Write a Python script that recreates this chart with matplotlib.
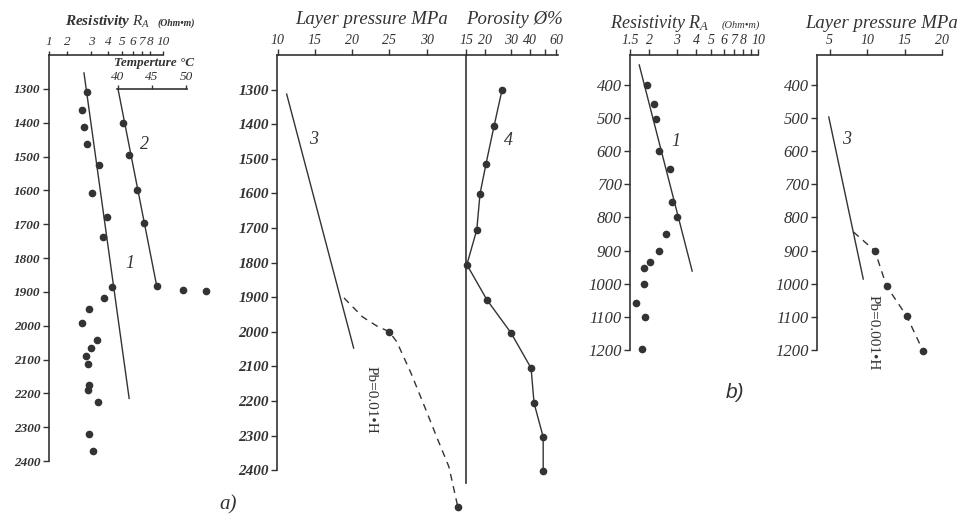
import matplotlib
matplotlib.use("Agg")
import matplotlib.pyplot as plt

plt.rcParams['font.family'] = ['Liberation Serif', 'DejaVu Serif']
plt.rcParams['mathtext.fontset'] = 'custom'
plt.rcParams['mathtext.it'] = 'Liberation Serif:italic'
plt.rcParams['mathtext.rm'] = 'Liberation Serif'

INK = '#333333'

# ---- panel a) : resistivity + temperature ---------------------------------
res_a_depth = [1309, 1364, 1414, 1463, 1525, 1609, 1680, 1737, 1886, 1918, 1950,
               1991, 2043, 2067, 2090, 2113, 2175, 2189, 2227, 2320, 2370]
res_a_val = [2.80, 2.57, 2.66, 2.80, 3.42, 3.05, 3.92, 3.66, 4.26, 3.72, 2.89,
             2.57, 3.31, 2.99, 2.75, 2.85, 2.90, 2.85, 3.37, 2.90, 3.09]
res_a_trend_depth = [1253, 2215]
res_a_trend_val = [2.66, 5.67]
res_a_ticks = [1.48, 2, 3, 4, 5, 6, 7, 8, 10]
res_a_ticklabels = ['1', '2', '3', '4', '5', '6', '7', '8', '10']

temp_depth = [1402, 1495, 1600, 1697, 1883, 1895, 1898]
temp_val = [40.7, 41.6, 42.8, 43.8, 45.7, 49.6, 52.9]
temp_trend_depth = [1300, 1883]
temp_trend_val = [40.0, 45.7]
temp_ticks = [40, 45, 50]

depth_a_ticks = [1300, 1400, 1500, 1600, 1700, 1800, 1900, 2000, 2100, 2200, 2300, 2400]

# ---- panel a) : layer pressure + porosity ---------------------------------
pres_a_line_depth = [1313, 2047]
pres_a_line_val = [11.2, 20.2]
pres_a_dash_depth = [1902, 1957, 1983, 2000, 2029, 2119, 2209, 2306, 2390, 2506]
pres_a_dash_val = [18.9, 21.4, 23.3, 25.0, 26.0, 27.9, 29.6, 31.4, 33.0, 34.2]
pres_a_pts_depth = [2000, 2506]
pres_a_pts_val = [25.0, 34.2]
pres_a_ticks = [10, 15, 20, 25, 30]

poro_depth = [1300, 1404, 1514, 1601, 1705, 1806, 1908, 2003, 2105, 2206, 2304, 2403]
poro_val = [26.1, 23.1, 20.4, 18.6, 17.7, 15.2, 20.7, 29.9, 40.7, 42.6, 49.0, 49.0]
poro_ticks = [15, 20, 30, 40, 50, 60]
poro_ticklabels = ['15', '20', '30', '40', '', '60']

# ---- panel b) ----------------------------------------------------------------
res_b_depth = [400, 457, 503, 599, 654, 753, 799, 850, 901, 935, 953, 1001, 1059, 1101, 1198]
res_b_val = [1.94, 2.15, 2.20, 2.32, 2.73, 2.80, 3.02, 2.57, 2.32, 2.03, 1.84, 1.84, 1.65, 1.86, 1.78]
res_b_trend_depth = [340, 962]
res_b_trend_val = [1.72, 3.77]
res_b_ticks = [1.5, 2, 3, 4, 5, 6, 7, 8, 9, 10]
res_b_ticklabels = ['1.5', '2', '3', '4', '5', '6', '7', '8', '', '10']

pres_b_line_depth = [497, 986]
pres_b_line_val = [4.9, 9.5]
pres_b_dash_depth = [844, 901, 1007, 1098, 1204]
pres_b_dash_val = [8.2, 11.05, 12.6, 15.3, 17.5]
pres_b_ticks = [5, 10, 15, 20]

depth_b_ticks = [400, 500, 600, 700, 800, 900, 1000, 1100, 1200]

W, H = 966, 516
fig = plt.figure(figsize=(9.66, 5.16), dpi=100)


def px_axes(x0, y0, x1, y1):
    ax = fig.add_axes([x0 / W, 1 - y1 / H, (x1 - x0) / W, (y1 - y0) / H])
    ax.patch.set_visible(False)
    for s in ['right', 'bottom']:
        ax.spines[s].set_visible(False)
    for s in ['left', 'top']:
        ax.spines[s].set_color(INK)
        ax.spines[s].set_linewidth(1.2)
    ax.xaxis.tick_top()
    ax.tick_params(axis='both', which='both', direction='out', length=4, width=1,
                   color=INK, labelcolor=INK, pad=2)
    ax.minorticks_off()
    return ax


def depth_labels(ax, ticks, size, weight='bold'):
    ax.set_yticks(ticks)
    ax.set_yticklabels([str(t) for t in ticks], fontstyle='italic', fontweight=weight,
                       fontsize=size)


def top_labels(ax, ticks, labels, size):
    ax.set_xticks(ticks)
    ax.set_xticklabels(labels, fontstyle='italic', fontsize=size)
    ax.minorticks_off()


def ftext(x, y, s, **kw):
    kw.setdefault('color', INK)
    kw.setdefault('fontstyle', 'italic')
    fig.text(x / W, 1 - y / H, s, **kw)


dot = dict(marker='o', ms=4.5, color=INK, lw=0, clip_on=False)

# resistivity a)
ax1 = px_axes(49, 55, 163, 461)
ax1.set_xscale('log')
ax1.set_xlim(1.48, 10.0)
ax1.set_ylim(2400, 1200)
ax1.plot(res_a_trend_val, res_a_trend_depth, color=INK, lw=1, clip_on=False)
ax1.plot(res_a_val, res_a_depth, **dot)
top_labels(ax1, res_a_ticks, res_a_ticklabels, 9.5)
ax1.tick_params(axis='x', length=3)
depth_labels(ax1, depth_a_ticks, 9.5)
ax1.text(5.7, 1815, '1', fontsize=13, fontstyle='italic', color=INK, ha='center', va='center')
ax1.text(7.3, 1466, '2', fontsize=13, fontstyle='italic', color=INK, ha='center', va='center')

# temperature a)
axt = px_axes(117, 89, 187, 461)
axt.spines['left'].set_visible(False)
axt.set_xlim(39.85, 50.15)
axt.set_ylim(2400, 1300)
axt.set_yticks([])
axt.plot(temp_trend_val, temp_trend_depth, color=INK, lw=1, clip_on=False)
axt.plot(temp_val, temp_depth, **dot)
top_labels(axt, temp_ticks, [str(t) for t in temp_ticks], 9.5)
axt.tick_params(axis='x', length=3, pad=1)

# layer pressure a)
ax2 = px_axes(277, 55, 466, 483)
ax2.set_xlim(9.9, 35.3)
ax2.set_ylim(2437, 1200)
ax2.spines['left'].set_bounds(2400, 1200)
ax2.plot(pres_a_line_val, pres_a_line_depth, color=INK, lw=1)
ax2.plot(pres_a_dash_val, pres_a_dash_depth, color=INK, lw=1, ls=(0, (5, 4)), clip_on=False)
ax2.plot(pres_a_pts_val, pres_a_pts_depth, **dot)
top_labels(ax2, pres_a_ticks, [str(t) for t in pres_a_ticks], 10)
depth_labels(ax2, depth_a_ticks, 11)
ax2.text(14.8, 1445, '3', fontsize=13, fontstyle='italic', color=INK, ha='center', va='center')
ax2.text(22.6, 2197, 'Pb=0.01•H', fontsize=11, color=INK, rotation=-90,
         ha='center', va='center')

# porosity a)
ax3 = px_axes(466, 55, 558, 483)
ax3.set_xscale('log')
ax3.set_xlim(15, 61.5)
ax3.set_ylim(2437, 1200)
ax3.set_yticks([])
ax3.plot(poro_val, poro_depth, color=INK, lw=1, marker='o', ms=4.5, clip_on=False)
top_labels(ax3, poro_ticks, poro_ticklabels, 10)
ax3.text(28.6, 1448, '4', fontsize=13, fontstyle='italic', color=INK, ha='center', va='center')

# resistivity b)
ax4 = px_axes(630, 55, 758, 350)
ax4.set_xscale('log')
ax4.set_xlim(1.5, 10)
ax4.set_ylim(1200, 310)
ax4.plot(res_b_trend_val, res_b_trend_depth, color=INK, lw=1, clip_on=False)
ax4.plot(res_b_val, res_b_depth, **dot)
top_labels(ax4, res_b_ticks, res_b_ticklabels, 10)
depth_labels(ax4, depth_b_ticks, 12, weight='normal')
ax4.text(2.98, 572, '1', fontsize=13, fontstyle='italic', color=INK, ha='center', va='center')

# layer pressure b)
ax5 = px_axes(817, 55, 942, 350)
ax5.set_xlim(3.33, 20)
ax5.set_ylim(1200, 310)
ax5.plot(pres_b_line_val, pres_b_line_depth, color=INK, lw=1)
ax5.plot(pres_b_dash_val, pres_b_dash_depth, color=INK, lw=1, ls=(0, (5, 4)), clip_on=False)
ax5.plot(pres_b_dash_val[1:], pres_b_dash_depth[1:], **dot)
top_labels(ax5, pres_b_ticks, [str(t) for t in pres_b_ticks], 10)
depth_labels(ax5, depth_b_ticks, 12, weight='normal')
ax5.text(7.3, 566, '3', fontsize=13, fontstyle='italic', color=INK, ha='center', va='center')
ax5.text(10.8, 1149, 'Pb=0.001•H', fontsize=11, color=INK, rotation=-90,
         ha='center', va='center')

# titles
ftext(65, 22, r'Resistivity $R_A$', fontsize=11, fontweight='bold', va='center')
ftext(158, 23, '(Ohm•m)', fontsize=7, fontweight='bold', va='center')
ftext(154, 63, 'Temperture °C', fontsize=9.5, fontweight='bold', ha='center', va='center')
ftext(372, 20, 'Layer pressure MPa', fontsize=13.5, ha='center', va='center')
ftext(514, 20, 'Porosity Ø%', fontsize=13.5, ha='center', va='center')
ftext(610, 24, r'Resistivity $R_A$', fontsize=13, va='center')
ftext(722, 25, '(Ohm•m)', fontsize=7.5, va='center')
ftext(882, 23, 'Layer pressure MPa', fontsize=13.5, ha='center', va='center')
ftext(228, 505, 'a)', fontsize=15, ha='center', va='center')
ftext(735, 392, 'b)', fontsize=15, family='Liberation Sans', ha='center', va='center')

fig.savefig('out.png', dpi=100, facecolor='white')
